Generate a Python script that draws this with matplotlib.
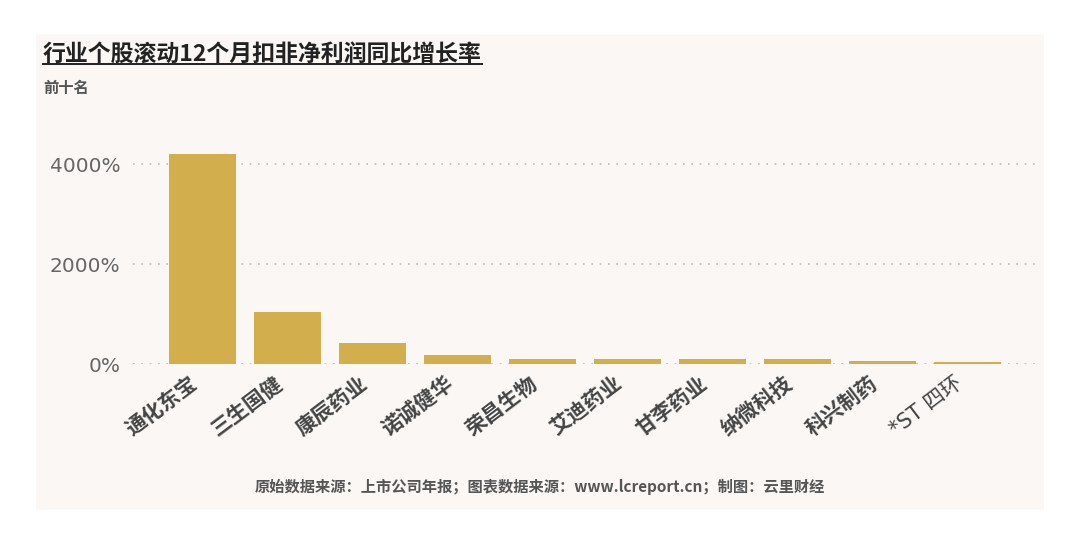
import matplotlib
matplotlib.use("Agg")
import matplotlib.pyplot as plt
from matplotlib.patches import Rectangle
from matplotlib.lines import Line2D
from matplotlib.transforms import ScaledTranslation

plt.rcParams['font.family'] = ['Noto Sans CJK SC', 'DejaVu Sans']

# top ten stocks, rolling 12-month growth of net profit excl. non-recurring items (%)
companies = ["通化东宝", "三生国健", "康辰药业", "诺诚健华", "荣昌生物",
             "艾迪药业", "甘李药业", "纳微科技", "科兴制药", "*ST 四环"]
growth = [4190, 1035, 430, 190, 107, 95, 93, 93, 67, 48]
yticks = [0, 2000, 4000]
ytick_labels = ["0%", "2000%", "4000%"]

BAR = "#d2ae4c"
PANEL = "#faf7f4"
TEXT = "#555555"

fig = plt.figure(figsize=(10.8, 5.45), dpi=100)
fig.patch.set_facecolor("white")
fig.patches.append(Rectangle((36 / 1080, 1 - 510 / 545), 1008 / 1080, 476 / 545,
                             transform=fig.transFigure, facecolor=PANEL,
                             edgecolor="none", zorder=-5))

ax = fig.add_axes([133 / 1080, 1 - 364 / 545, 902 / 1080, 220 / 545])
ax.set_facecolor("none")
x = list(range(len(companies)))
ax.bar(x, growth, width=0.79, color=BAR, zorder=2)

ax.set_xlim(-0.82, 9.79)
ax.set_ylim(0, 4400)
ax.set_yticks(yticks)
ax.set_yticklabels(ytick_labels, family="DejaVu Sans")
ax.yaxis.grid(True, linestyle=(0, (1, 4)), color="#bbbbbb", linewidth=1.2, zorder=1)
ax.set_axisbelow(True)
for s in ax.spines.values():
    s.set_visible(False)
ax.tick_params(axis="y", length=0, pad=9, labelsize=14.5, labelcolor="#666666")
ax.tick_params(axis="x", length=0, pad=6)
ax.set_xticks(x)
ax.set_xticklabels(companies, rotation=37, ha="right", rotation_mode="anchor",
                   fontsize=15, fontweight="bold", color="#444444")
shift = ScaledTranslation(-10 / 72, 0, fig.dpi_scale_trans)
for lab in ax.get_xticklabels():
    lab.set_transform(lab.get_transform() + shift)
# last label: "*ST" is light in the reference
last = ax.get_xticklabels()[-1]
last.set_fontweight("normal")
last.set_family(["DejaVu Sans", "Noto Sans CJK SC"])

# title with underline
title = fig.text(43 / 1080, 1 - 54 / 545, "行业个股滚动12个月扣非净利润同比增长率",
                 fontsize=16.5, fontweight="bold", color="#222222", va="center")
fig.text(43 / 1080, 1 - 88 / 545, "前十名", fontsize=11, fontweight="bold",
         color=TEXT, va="center")

fig.canvas.draw()
bb = title.get_window_extent().transformed(fig.transFigure.inverted())
fig.add_artist(Line2D([bb.x0, bb.x1], [bb.y0 + 0.002, bb.y0 + 0.002],
                      transform=fig.transFigure, color="#222222", linewidth=1.4))

fig.text(540 / 1080, 1 - 487 / 545,
         "原始数据来源：上市公司年报；图表数据来源：www.lcreport.cn；制图：云里财经",
         fontsize=11, fontweight="bold", color=TEXT, ha="center", va="center")

fig.savefig("out.png", dpi=100, facecolor=fig.get_facecolor())
